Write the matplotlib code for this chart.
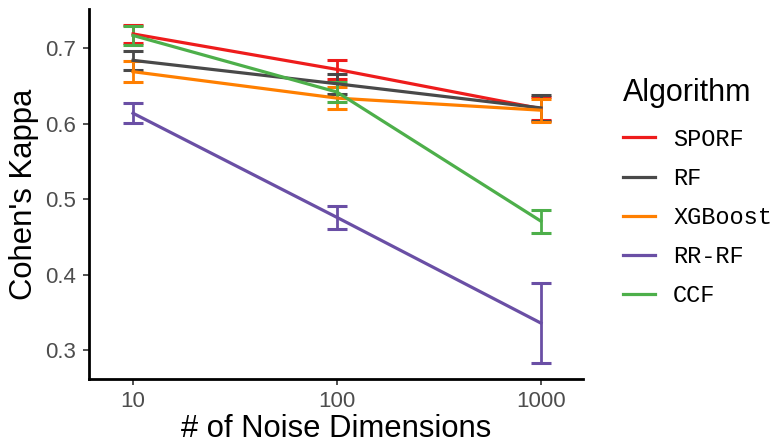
import numpy as np
import matplotlib
matplotlib.use("Agg")
import matplotlib.pyplot as plt
from matplotlib.ticker import FixedLocator, NullLocator

# Cohen's kappa against number of noise dimensions
noise_dims = [10, 100, 1000]
algorithms = ["SPORF", "RF", "XGBoost", "RR-RF", "CCF"]
colors = ["#EE1C1C", "#494949", "#FF7F00", "#6A4FA5", "#4DAF4A"]

kappa_mean = {
    "SPORF":   [0.719, 0.672, 0.620],
    "RF":      [0.684, 0.653, 0.621],
    "XGBoost": [0.669, 0.634, 0.618],
    "RR-RF":   [0.614, 0.476, 0.336],
    "CCF":     [0.717, 0.642, 0.471],
}
kappa_err = {
    "SPORF":   [0.012, 0.013, 0.015],
    "RF":      [0.013, 0.013, 0.017],
    "XGBoost": [0.014, 0.015, 0.015],
    "RR-RF":   [0.013, 0.015, 0.053],
    "CCF":     [0.012, 0.013, 0.015],
}

plt.rcParams['font.family'] = ['Liberation Sans', 'DejaVu Sans']

fig = plt.figure(figsize=(7.77, 4.44), dpi=100)
ax = fig.add_axes([0.1145, 0.1464, 0.6358, 0.8333])

for name, col in zip(algorithms, colors):
    ax.errorbar(noise_dims, kappa_mean[name], yerr=kappa_err[name], color=col,
                lw=2, elinewidth=2, capsize=7.2, capthick=2.2, label=name)

ax.set_xscale("log")
ax.set_xlim(10 ** 0.784, 10 ** 3.206)
ax.set_ylim(0.262, 0.752)
ax.xaxis.set_major_locator(FixedLocator(noise_dims))
ax.xaxis.set_minor_locator(NullLocator())
ax.set_xticklabels([str(v) for v in noise_dims])
ax.set_yticks([0.3, 0.4, 0.5, 0.6, 0.7])
ax.set_yticklabels(["0.3", "0.4", "0.5", "0.6", "0.7"])

for side in ("top", "right"):
    ax.spines[side].set_visible(False)
for side in ("left", "bottom"):
    ax.spines[side].set_linewidth(2)
    ax.spines[side].set_color("black")
ax.tick_params(axis="both", length=4, width=1.2, color="#333333",
               labelsize=16, labelcolor="#4D4D4D", pad=5)

ax.set_xlabel("# of Noise Dimensions", fontsize=22.3, labelpad=1)
ax.set_ylabel("Cohen's Kappa", fontsize=22.3, labelpad=5)

handles, labels = ax.get_legend_handles_labels()
handles = [h[0] for h in handles]
for h in handles:
    h.set_linewidth(2.3)
leg = ax.legend(handles, labels, title="Algorithm", loc="upper left",
                bbox_to_anchor=(0.790, 0.845), bbox_transform=fig.transFigure,
                frameon=False, handlelength=1.36, handletextpad=0.75,
                labelspacing=0.68, prop={"family": "Liberation Mono", "size": 17},
                title_fontsize=22, borderaxespad=0)
leg._legend_box.align = "left"
leg._legend_box.sep = 14

fig.savefig("out.png", dpi=100)
